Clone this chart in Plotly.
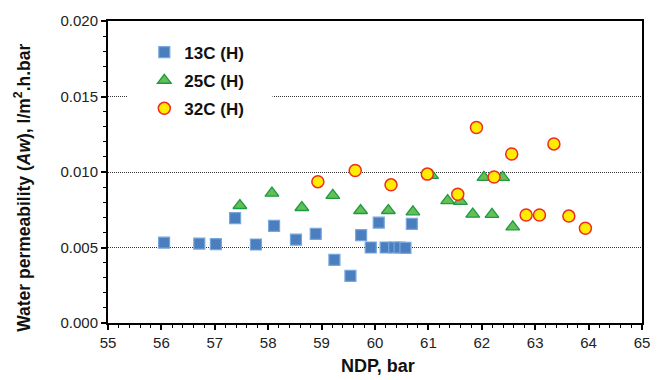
import plotly.graph_objects as go

x13 = [56.05, 56.71, 57.02, 57.38, 57.77, 58.11, 58.52, 58.89, 59.24, 59.54, 59.74, 59.92, 60.07, 60.20, 60.36, 60.46, 60.57, 60.69]
y13 = [0.00532, 0.00526, 0.00523, 0.00695, 0.00520, 0.00643, 0.00552, 0.00590, 0.00418, 0.00312, 0.00582, 0.00500, 0.00665, 0.00500, 0.00500, 0.00500, 0.00497, 0.00656]

x25 = [57.47, 58.07, 58.63, 59.21, 59.73, 60.25, 60.71, 61.06, 61.36, 61.60, 61.83, 62.04, 62.19, 62.39, 62.58]
y25 = [0.00778, 0.00860, 0.00765, 0.00845, 0.00745, 0.00745, 0.00736, 0.00977, 0.00810, 0.00806, 0.00721, 0.00964, 0.00720, 0.00964, 0.00637]

x32 = [58.93, 59.63, 60.30, 60.98, 61.55, 61.90, 62.23, 62.56, 62.83, 63.08, 63.35, 63.63, 63.94]
y32 = [0.00936, 0.01010, 0.00915, 0.00986, 0.00853, 0.01295, 0.00967, 0.01119, 0.00715, 0.00715, 0.01186, 0.00708, 0.00628]

names = ["13C (H)", "25C (H)", "32C (H)"]
x_title = "NDP, bar"
y_title = "Water permeability (<i>Aw</i>), l/m<sup>2</sup>.h.bar"

font = "Liberation Sans, Arial, sans-serif"

fig = go.Figure()
fig.add_trace(go.Scatter(x=x13, y=y13, mode="markers", name=names[0], legendgroup="a",
                         marker=dict(symbol="square", size=11, color="#4a7ebf",
                                     line=dict(color="#78a6db", width=1.2))))
fig.add_trace(go.Scatter(x=x25, y=y25, mode="markers", name=names[1], legendgroup="b",
                         marker=dict(symbol="triangle-up", size=12, color="#64bf55",
                                     line=dict(color="#1e9a45", width=1.3))))
fig.add_trace(go.Scatter(x=x32, y=y32, mode="markers", name=names[2], legendgroup="c",
                         marker=dict(symbol="circle", size=12, color="#ffec00",
                                     line=dict(color="#ee2a24", width=1.5))))

fig.update_layout(
    width=662, height=380,
    margin=dict(l=108, r=18, t=16, b=57),
    paper_bgcolor="white", plot_bgcolor="white",
    font=dict(family=font, size=15, color="#222"),
    showlegend=True,
    legend=dict(x=0.068, y=0.955, xanchor="left", yanchor="top",
                bgcolor="white", borderwidth=0, tracegroupgap=3,
                font=dict(family=font, size=17, color="#111", weight="bold"),
                itemwidth=30),
    shapes=[dict(type="rect", xref="paper", yref="paper", x0=0.037, x1=0.308,
                 y0=0.62, y1=0.96, fillcolor="white", line=dict(width=0), layer="above")],
    xaxis=dict(range=[55, 65], dtick=1, tick0=55, showgrid=False,
               showline=True, linecolor="black", linewidth=2, mirror=True,
               ticks="outside", ticklen=5, tickcolor="black", tickwidth=1.5,
               minor=dict(dtick=0.2, ticks="outside", ticklen=3, tickcolor="black", tickwidth=1),
               tickfont=dict(size=15, color="#222"), zeroline=False),
    yaxis=dict(range=[0, 0.020], dtick=0.005, tick0=0, tickformat=".3f",
               showgrid=True, gridcolor="#333", griddash="1px,1px", gridwidth=1,
               showline=True, linecolor="black", linewidth=2, mirror=True,
               ticks="outside", ticklen=5, tickcolor="black", tickwidth=1.5,
               minor=dict(dtick=0.001, ticks="outside", ticklen=3, tickcolor="black", tickwidth=1, showgrid=False),
               tickfont=dict(size=15, color="#222"), zeroline=False),
    annotations=[
        dict(text="<b>" + x_title + "</b>", xref="paper", yref="paper", x=0.506, y=-0.143,
             xanchor="center", yanchor="middle", showarrow=False,
             font=dict(family=font, size=18, color="#111")),
        dict(text="<b>" + y_title + "</b>", xref="paper", yref="paper", x=-0.16, y=0.446,
             xanchor="center", yanchor="middle", showarrow=False, textangle=-90,
             font=dict(family=font, size=17.5, color="#111")),
    ],
)

fig.write_html("out.html")
